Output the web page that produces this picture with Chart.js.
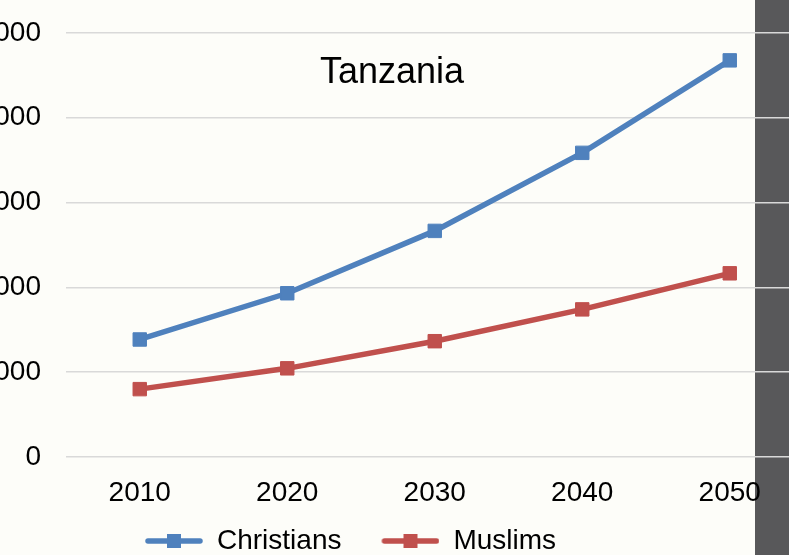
<!DOCTYPE html>
<html>
<head>
<meta charset="utf-8">
<script src="https://cdn.jsdelivr.net/npm/chart.js@4/dist/chart.umd.min.js"></script>
<style>
  html, body { margin: 0; padding: 0; }
  body { width: 789px; height: 555px; overflow: hidden; position: relative; background: #fdfdf9; }
  #bar { position: absolute; left: 755px; top: 0; width: 34px; height: 555px; background: #58585a; }
  #wrap { position: absolute; left: -170px; top: -9px; width: 984px; height: 574px; }
  canvas { display: block; }
</style>
</head>
<body>
<div id="bar"></div>
<div id="wrap"><canvas id="chart" width="984" height="574"></canvas></div>
<script>
  // values (thousands of people)
  const years = ['2010', '2020', '2030', '2040', '2050'];
  const christians = [27700, 38600, 53300, 71700, 93500];
  const muslims = [16000, 20900, 27300, 34800, 43300];
  const chartTitle = 'Tanzania';

  const BLUE = '#4f81bd';
  const RED = '#c0504d';
  const FONT = "'Liberation Sans', Arial, sans-serif";

  // legend swatch: line with a square marker, drawn on the right of a wider box
  function swatch(color) {
    const c = document.createElement('canvas');
    c.width = 96;
    c.height = 16;
    const g = c.getContext('2d');
    g.strokeStyle = color;
    g.lineWidth = 5.5;
    g.lineCap = 'round';
    g.beginPath();
    g.moveTo(41, 8);
    g.lineTo(93, 8);
    g.stroke();
    g.fillStyle = color;
    g.fillRect(60, 1, 14, 14);
    return c;
  }

  const titlePlugin = {
    id: 'overlayTitle',
    beforeDatasetsDraw(chart) {
      const ctx = chart.ctx;
      ctx.save();
      ctx.font = '36px ' + FONT;
      ctx.fillStyle = '#000';
      ctx.textAlign = 'center';
      ctx.textBaseline = 'alphabetic';
      ctx.fillText(chartTitle, 562, 92);
      ctx.restore();
    },
  };

  new Chart(document.getElementById('chart'), {
    type: 'line',
    data: {
      labels: years,
      datasets: [
        {
          label: 'Christians',
          data: christians,
          borderColor: BLUE,
          backgroundColor: BLUE,
          borderWidth: 5.5,
          pointStyle: 'rect',
          pointRadius: 9.5,
          pointBorderWidth: 1,
          tension: 0,
        },
        {
          label: 'Muslims',
          data: muslims,
          borderColor: RED,
          backgroundColor: RED,
          borderWidth: 5.5,
          pointStyle: 'rect',
          pointRadius: 9.5,
          pointBorderWidth: 1,
          tension: 0,
        },
      ],
    },
    options: {
      responsive: false,
      animation: false,
      events: [],
      layout: { padding: { left: 19.6, right: 0.5, top: 0, bottom: 0 } },
      plugins: {
        tooltip: { enabled: false },
        legend: {
          position: 'bottom',
          labels: {
            color: '#000',
            font: { size: 28, family: FONT },
            padding: 2,
            usePointStyle: true,
            pointStyleWidth: 96,
            generateLabels: (chart) => chart.data.datasets.map((ds, i) => ({
              text: ds.label,
              pointStyle: swatch(ds.borderColor),
              fillStyle: ds.borderColor,
              strokeStyle: ds.borderColor,
              lineWidth: 0,
              hidden: false,
              datasetIndex: i,
            })),
          },
        },
      },
      scales: {
        x: {
          offset: true,
          grid: { display: false, drawTicks: false },
          border: { display: false },
          ticks: { color: '#000', font: { size: 28, family: FONT }, padding: 19, maxRotation: 0 },
          afterFit: (s) => { s.height = 68; },
        },
        y: {
          min: 0,
          max: 100000,
          grid: { color: '#d9d9d9', lineWidth: 1.5, drawTicks: false },
          border: { display: false },
          ticks: { stepSize: 20000, color: '#000', font: { size: 28, family: FONT }, padding: 25 },
          afterFit: (s) => { s.width = 216.4; },
        },
      },
    },
    plugins: [titlePlugin],
  });
</script>
</body>
</html>
